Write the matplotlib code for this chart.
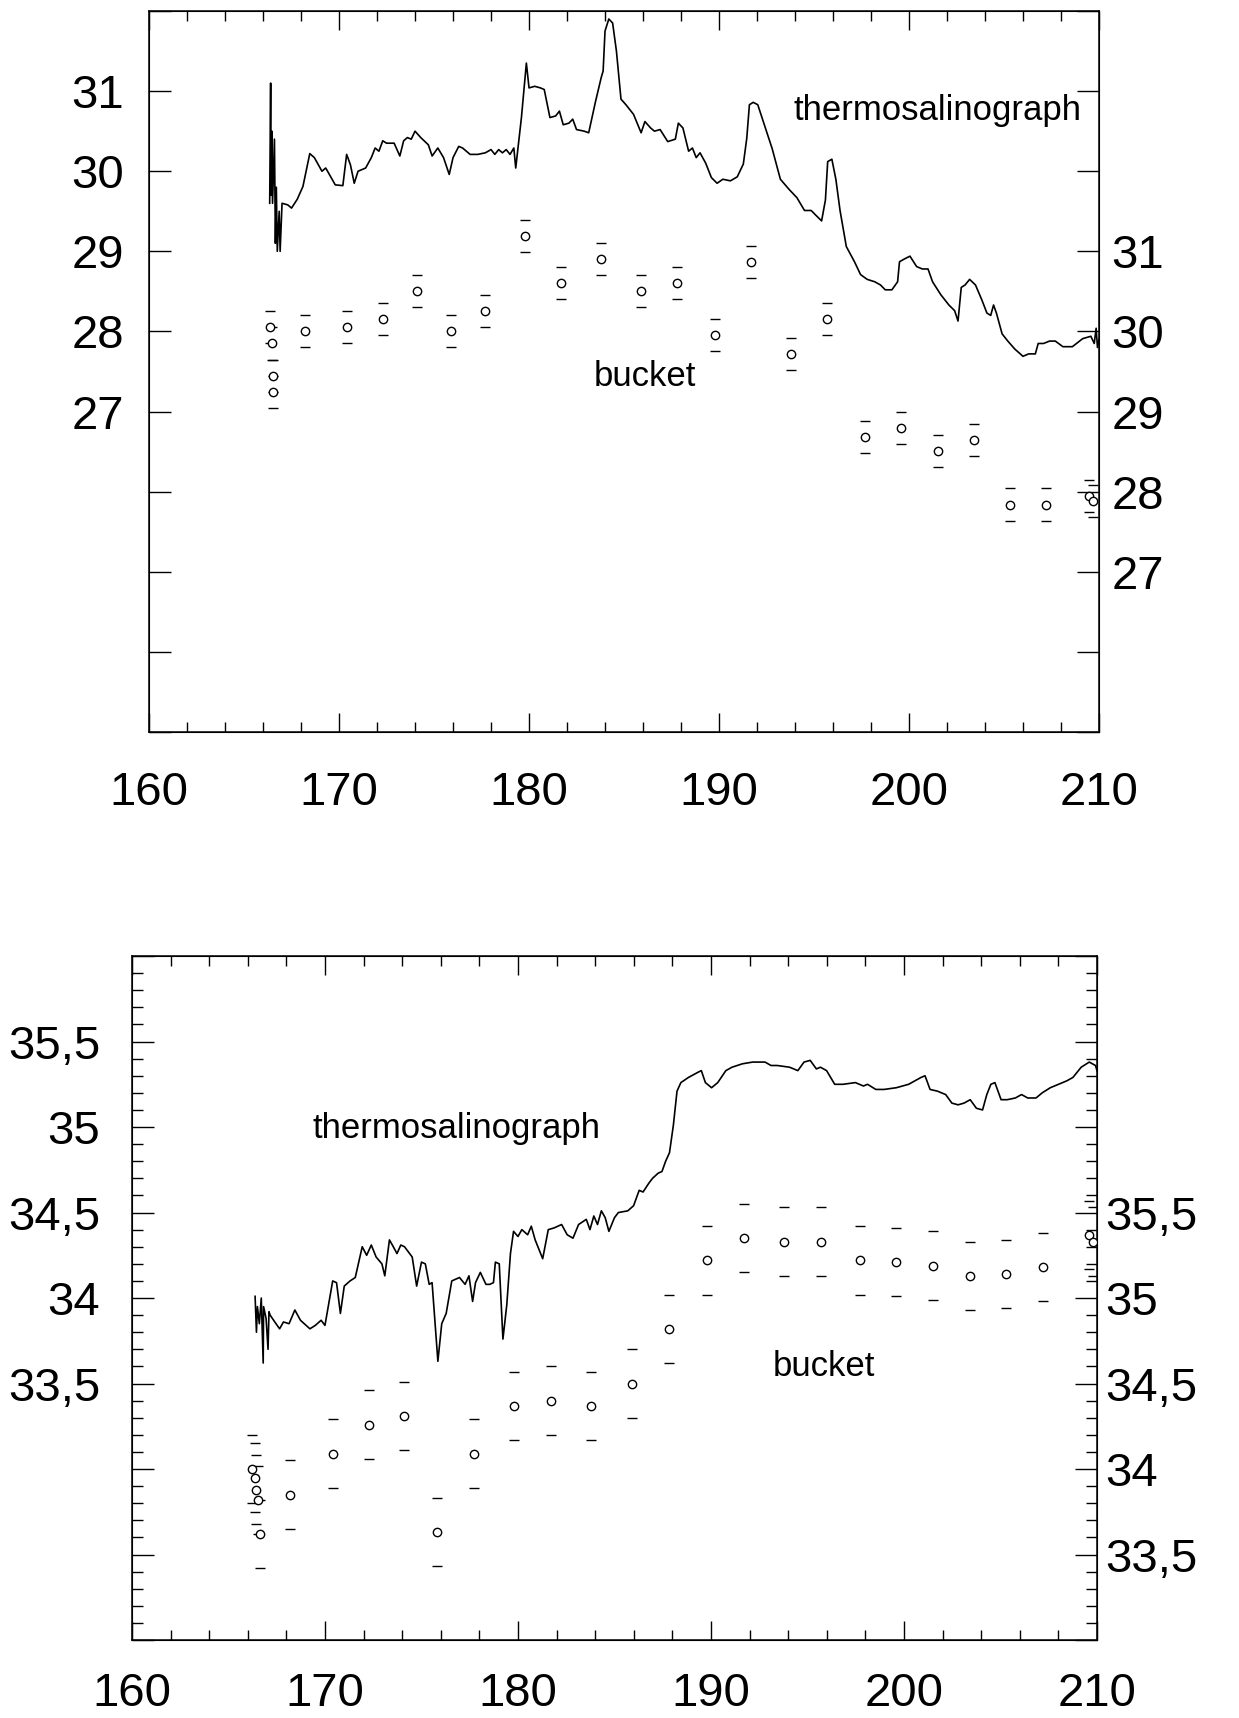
import matplotlib
matplotlib.use("Agg")
import matplotlib.pyplot as plt
from matplotlib.ticker import MultipleLocator

plt.rcParams["font.family"] = ["Liberation Sans", "DejaVu Sans"]

# ---- upper panel: temperature ----
# thermosalinograph, left axis
temp_tsg_x = [166.35, 166.4, 166.42, 166.46, 166.5, 166.6, 166.65, 166.7, 166.75, 166.85,
              166.9, 167.0, 167.3, 167.5, 167.8, 168.1, 168.46, 168.7, 169.1, 169.3,
              169.8, 170.2, 170.4, 170.6, 170.8, 171.0, 171.4, 171.7, 171.9, 172.1,
              172.3, 172.5, 172.9, 173.2, 173.4, 173.6, 173.8, 174.0, 174.3, 174.7,
              174.9, 175.2, 175.5, 175.8, 176.0, 176.3, 176.5, 176.9, 177.3, 177.7,
              178.0, 178.2, 178.4, 178.6, 178.8, 179.0, 179.2, 179.3, 179.6, 179.86,
              180.0, 180.3, 180.6, 180.8, 181.1, 181.4, 181.6, 181.8, 182.1, 182.3,
              182.5, 182.9, 183.14, 183.5, 183.8, 183.9, 184.0, 184.2, 184.4, 184.6,
              184.84, 185.1, 185.5, 185.9, 186.1, 186.4, 186.6, 186.9, 187.3, 187.7,
              187.86, 188.1, 188.4, 188.6, 188.8, 189.0, 189.3, 189.6, 189.9, 190.2,
              190.6, 190.96, 191.28, 191.46, 191.6, 191.8, 192.04, 192.36, 192.8, 193.23,
              193.7, 194.1, 194.5, 194.85, 195.1, 195.4, 195.6, 195.72, 195.94, 196.15,
              196.37, 196.7, 197.13, 197.45, 197.8, 198.2, 198.5, 198.75, 199.1, 199.4,
              199.5, 199.72, 200.05, 200.4, 200.7, 201.0, 201.24, 201.67, 202.1, 202.4,
              202.58, 202.75, 202.95, 203.19, 203.5, 203.84, 204.1, 204.3, 204.45, 204.6,
              204.9, 205.2, 205.57, 206.0, 206.3, 206.65, 206.8, 207.08, 207.4, 207.7,
              208.1, 208.6, 209.14, 209.57, 209.75, 209.85, 209.92, 210.0]
temp_tsg_y = [29.6, 31.1, 29.7, 30.5, 29.6, 30.4, 29.1, 29.8, 29.0, 29.5,
              29.0, 29.6, 29.58, 29.54, 29.65, 29.81, 30.22, 30.17, 30.0, 30.04,
              29.83, 29.82, 30.21, 30.08, 29.85, 30.0, 30.04, 30.17, 30.29, 30.25,
              30.38, 30.35, 30.35, 30.19, 30.38, 30.42, 30.40, 30.5, 30.42, 30.33,
              30.19, 30.29, 30.17, 29.96, 30.17, 30.31, 30.29, 30.21, 30.21, 30.23,
              30.27, 30.21, 30.27, 30.23, 30.27, 30.21, 30.29, 30.04, 30.67, 31.35,
              31.04, 31.06, 31.04, 31.02, 30.67, 30.69, 30.75, 30.58, 30.6, 30.65,
              30.52, 30.5, 30.48, 30.87, 31.17, 31.25, 31.75, 31.9, 31.85, 31.5,
              30.9, 30.83, 30.71, 30.48, 30.62, 30.54, 30.50, 30.52, 30.37, 30.40,
              30.6, 30.54, 30.25, 30.29, 30.17, 30.23, 30.1, 29.92, 29.85, 29.9,
              29.88, 29.93, 30.09, 30.41, 30.83, 30.86, 30.83, 30.6, 30.28, 29.9,
              29.77, 29.67, 29.51, 29.51, 29.45, 29.38, 29.64, 30.12, 30.15, 29.9,
              29.51, 29.06, 28.87, 28.71, 28.65, 28.62, 28.58, 28.52, 28.52, 28.62,
              28.87, 28.9, 28.94, 28.81, 28.78, 28.78, 28.62, 28.46, 28.33, 28.26,
              28.13, 28.55, 28.58, 28.65, 28.58, 28.39, 28.23, 28.2, 28.33, 28.23,
              27.97, 27.88, 27.78, 27.69, 27.72, 27.72, 27.85, 27.85, 27.88, 27.88,
              27.81, 27.81, 27.91, 27.94, 27.85, 28.04, 27.8, 27.9]

# bucket samples, right axis
temp_bucket_x = [166.35, 166.45, 166.5, 166.55, 168.2, 170.4, 172.3, 174.1, 175.9, 177.7,
                 179.8, 181.7, 183.8, 185.9, 187.8, 189.8, 191.7, 193.8, 195.7, 197.7,
                 199.6, 201.5, 203.4, 205.3, 207.2, 209.5, 209.7]
temp_bucket_y = [30.05, 29.85, 29.45, 29.25, 30.0, 30.06, 30.15, 30.51, 30.0, 30.25,
                 31.19, 30.6, 30.9, 30.5, 30.6, 29.95, 30.87, 29.72, 30.15, 28.68,
                 28.79, 28.51, 28.64, 27.84, 27.84, 27.95, 27.88]

temp_left_ticks = [23, 24, 25, 26, 27, 28, 29, 30, 31, 32]
temp_left_labels = ["", "", "", "", "27", "28", "29", "30", "31", ""]
temp_right_ticks = [25, 26, 27, 28, 29, 30, 31, 32, 33, 34]
temp_right_labels = ["", "", "27", "28", "29", "30", "31", "", "", ""]

# ---- lower panel: salinity ----
sal_tsg_x = [166.38, 166.45, 166.5, 166.6, 166.7, 166.8, 166.82, 166.95, 167.05, 167.1,
             167.16, 167.4, 167.65, 167.85, 168.14, 168.44, 168.73, 169.22, 169.5, 169.8,
             170.0, 170.4, 170.6, 170.8, 171.0, 171.3, 171.57, 171.93, 172.16, 172.4,
             172.65, 172.95, 173.1, 173.34, 173.54, 173.73, 173.93, 174.12, 174.52, 174.75,
             175.0, 175.2, 175.4, 175.55, 175.85, 176.05, 176.28, 176.57, 176.97, 177.26,
             177.46, 177.65, 177.8, 178.05, 178.34, 178.54, 178.73, 178.83, 179.03, 179.22,
             179.42, 179.61, 179.77, 180.0, 180.2, 180.5, 180.69, 180.89, 181.28, 181.57,
             181.87, 182.26, 182.55, 182.85, 183.14, 183.54, 183.73, 183.93, 184.12, 184.32,
             184.52, 184.71, 185.0, 185.2, 185.69, 185.99, 186.28, 186.48, 186.77, 186.97,
             187.26, 187.46, 187.65, 187.85, 188.05, 188.24, 188.44, 188.83, 189.32, 189.5,
             189.71, 190.03, 190.35, 190.77, 191.09, 191.63, 192.16, 192.8, 193.11, 193.43,
             194.07, 194.5, 194.82, 195.14, 195.46, 195.67, 195.99, 196.41, 196.84, 197.48,
             197.9, 198.11, 198.54, 198.97, 199.6, 200.24, 200.88, 201.09, 201.35, 201.73,
             202.16, 202.48, 202.8, 203.11, 203.43, 203.75, 204.07, 204.29, 204.5, 204.71,
             205.03, 205.35, 205.77, 206.09, 206.41, 206.84, 207.16, 207.58, 208.01, 208.43,
             208.75, 209.18, 209.6, 209.92, 210.0]
sal_tsg_y = [34.01, 33.8, 33.95, 33.85, 34.0, 33.62, 33.95, 33.88, 33.7, 33.92,
             33.9, 33.86, 33.82, 33.86, 33.85, 33.93, 33.87, 33.82, 33.84, 33.87,
             33.84, 34.1, 34.09, 33.91, 34.07, 34.1, 34.12, 34.3, 34.25, 34.31,
             34.24, 34.2, 34.13, 34.34, 34.3, 34.26, 34.31, 34.3, 34.24, 34.07,
             34.21, 34.2, 34.08, 34.09, 33.63, 33.85, 33.91, 34.1, 34.12, 34.08,
             34.13, 33.98, 34.09, 34.15, 34.08, 34.08, 34.09, 34.21, 34.2, 33.76,
             33.96, 34.26, 34.39, 34.36, 34.4, 34.37, 34.42, 34.34, 34.23, 34.4,
             34.41, 34.43, 34.37, 34.35, 34.43, 34.46, 34.4, 34.48, 34.43, 34.51,
             34.47, 34.39, 34.47, 34.5, 34.51, 34.54, 34.63, 34.62, 34.67, 34.7,
             34.73, 34.74, 34.8, 34.85, 35.01, 35.21, 35.26, 35.29, 35.32, 35.33,
             35.26, 35.23, 35.26, 35.33, 35.35, 35.37, 35.38, 35.38, 35.36, 35.36,
             35.35, 35.33, 35.38, 35.39, 35.34, 35.35, 35.33, 35.25, 35.25, 35.26,
             35.24, 35.25, 35.22, 35.22, 35.23, 35.25, 35.29, 35.3, 35.22, 35.21,
             35.19, 35.14, 35.13, 35.14, 35.16, 35.11, 35.1, 35.19, 35.25, 35.26,
             35.16, 35.16, 35.17, 35.19, 35.17, 35.17, 35.2, 35.23, 35.25, 35.27,
             35.29, 35.35, 35.38, 35.36, 35.33]

sal_bucket_x = [166.2, 166.35, 166.45, 166.55, 166.65, 168.2, 170.4, 172.3, 174.1, 175.8,
                177.7, 179.8, 181.7, 183.8, 185.9, 187.8, 189.8, 191.7, 193.8, 195.7,
                197.7, 199.6, 201.5, 203.4, 205.3, 207.2, 209.6, 209.8]
sal_bucket_y = [34.0, 33.95, 33.88, 33.82, 33.62, 33.85, 34.09, 34.26, 34.31, 33.63,
                34.09, 34.37, 34.4, 34.37, 34.5, 34.82, 35.22, 35.35, 35.33, 35.33,
                35.22, 35.21, 35.19, 35.13, 35.14, 35.18, 35.37, 35.33]

sal_left_ticks = [32, 32.5, 33, 33.5, 34, 34.5, 35, 35.5, 36]
sal_left_labels = ["", "", "", "33,5", "34", "34,5", "35", "35,5", ""]
sal_right_ticks = [33, 33.5, 34, 34.5, 35, 35.5, 36, 36.5, 37]
sal_right_labels = ["", "33,5", "34", "34,5", "35", "35,5", "", "", ""]

x_ticks = [160, 170, 180, 190, 200, 210]
BUCKET_ERR = 0.2


def style_x(ax, pad):
    ax.set_xlim(160, 210)
    ax.set_xticks(x_ticks)
    ax.set_xticklabels([str(t) for t in x_ticks])
    ax.xaxis.set_minor_locator(MultipleLocator(2))
    ax.tick_params(axis="x", which="both", direction="in", top=True, bottom=True,
                   labelsize=34, pad=pad)
    ax.tick_params(axis="x", which="major", length=14, width=1)
    ax.tick_params(axis="x", which="minor", length=7, width=1)
    for s in ax.spines.values():
        s.set_linewidth(1.1)


def draw_buckets(ax, x, y):
    ax.errorbar(x, y, yerr=BUCKET_ERR, fmt="o", mfc="white", mec="black", mew=1.0,
                ms=6, ecolor="black", elinewidth=0, capsize=3.5, capthick=1.6)


fig = plt.figure(figsize=(12.39, 17.18), dpi=100)

# upper panel
ax1 = fig.add_axes([0.1203, 0.5739, 0.7667, 0.4197])
ax1.plot(temp_tsg_x, temp_tsg_y, color="black", lw=1.2)
ax1.set_ylim(23, 32)
ax1.set_yticks(temp_left_ticks)
ax1.set_yticklabels(temp_left_labels)
ax1.tick_params(axis="y", direction="in", length=16, width=1, labelsize=34, pad=18)
style_x(ax1, 28)
ax1.text(201.5, 30.76, "thermosalinograph", fontsize=25, ha="center", va="center")
ax1.text(186.1, 27.44, "bucket", fontsize=25, ha="center", va="center")

ax1r = ax1.twinx()
ax1r.set_ylim(25, 34)
draw_buckets(ax1r, temp_bucket_x, temp_bucket_y)
ax1r.set_yticks(temp_right_ticks)
ax1r.set_yticklabels(temp_right_labels)
ax1r.tick_params(axis="y", direction="in", length=16, width=1, labelsize=34, pad=9)
ax1r.set_xlim(160, 210)

# lower panel
ax2 = fig.add_axes([0.1065, 0.0454, 0.7789, 0.3981])
ax2.plot(sal_tsg_x, sal_tsg_y, color="black", lw=1.2)
ax2.set_ylim(32, 36)
ax2.set_yticks(sal_left_ticks)
ax2.set_yticklabels(sal_left_labels)
ax2.yaxis.set_minor_locator(MultipleLocator(0.1))
ax2.tick_params(axis="y", which="both", direction="in", labelsize=34, pad=23)
ax2.tick_params(axis="y", which="major", length=16, width=1)
ax2.tick_params(axis="y", which="minor", length=8, width=1)
style_x(ax2, 23)
ax2.text(176.84, 34.99, "thermosalinograph", fontsize=25, ha="center", va="center")
ax2.text(195.85, 33.6, "bucket", fontsize=25, ha="center", va="center")

ax2r = ax2.twinx()
ax2r.set_ylim(33, 37)
draw_buckets(ax2r, sal_bucket_x, sal_bucket_y)
ax2r.set_yticks(sal_right_ticks)
ax2r.set_yticklabels(sal_right_labels)
ax2r.yaxis.set_minor_locator(MultipleLocator(0.1))
ax2r.tick_params(axis="y", which="both", direction="in", labelsize=34, pad=6)
ax2r.tick_params(axis="y", which="major", length=16, width=1)
ax2r.tick_params(axis="y", which="minor", length=8, width=1)
ax2r.set_xlim(160, 210)

fig.savefig("out.png", dpi=100)
